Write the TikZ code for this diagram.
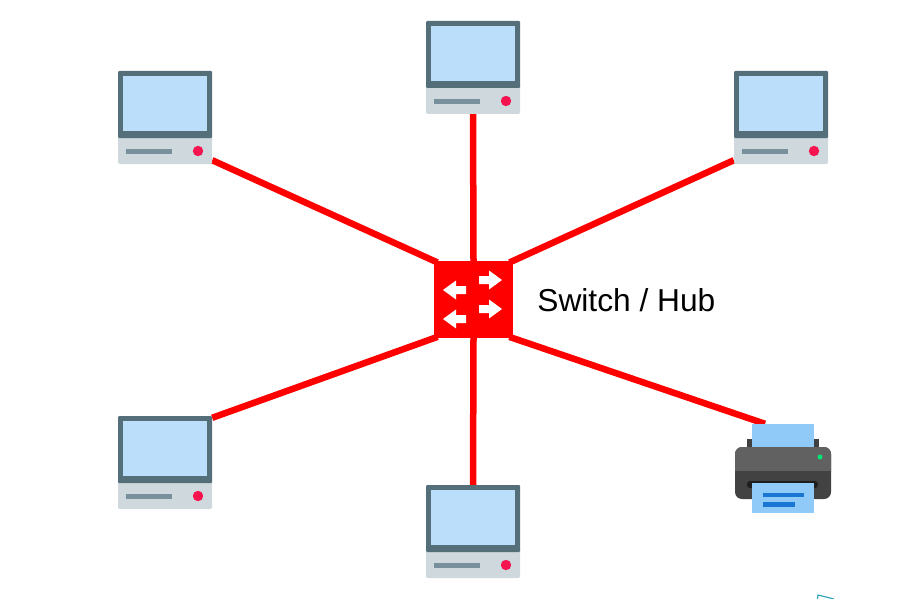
\documentclass[tikz,border=0pt]{standalone}
\usepackage{fontspec}
\setmainfont{Liberation Sans}
\usepackage{tikz}
\usetikzlibrary{positioning}
\definecolor{FrameGrey}{HTML}{546E7A}
\definecolor{ScreenBlue}{HTML}{BBDEFB}
\definecolor{BaseGrey}{HTML}{CFD8DC}
\definecolor{SlotGrey}{HTML}{78909C}
\definecolor{LampRed}{HTML}{F5144F}
\definecolor{LampGreen}{HTML}{00E676}
\definecolor{PaperBlue}{HTML}{90CAF9}
\definecolor{PrintBlue}{HTML}{1976D2}
\definecolor{MarkTeal}{HTML}{2CA6B5}
\tikzset{ComputerBox/.style={%
    shape=rectangle,%
    minimum width=94pt,%
    minimum height=93pt,%
    inner sep=0pt,%
}}
\tikzset{PrinterBox/.style={%
    shape=rectangle,%
    minimum width=96pt,%
    minimum height=89pt,%
    inner sep=0pt,%
}}
\tikzset{SwitchBox/.style={%
    shape=rectangle,%
    fill=red,%
    minimum width=79pt,%
    minimum height=77pt,%
    inner sep=0pt,%
}}
\tikzset{CableEdge/.style={%
    draw=red,%
    line width=6.5pt,%
    shorten >=-4pt,%
}}
\tikzset{SwitchLabel/.style={%
    inner sep=0pt,%
    font=\fontsize{31.7}{36}\selectfont,%
}}
\tikzset{computer/.pic={%
    \fill[BaseGrey, rounded corners=1.5pt] (-47,15) rectangle (47,46.5);
    \fill[FrameGrey, rounded corners=1pt] (-47,-46.5) rectangle (47,20.5);
    \fill[ScreenBlue] (-42,-41.5) rectangle (42,13.5);
    \fill[SlotGrey] (-39,31.5) rectangle (7,36.5);
    \fill[LampRed] (33,33.5) circle (5.2);
}}
\tikzset{printer/.pic={%
    \fill[black!75] (-36,-30) rectangle (36,-20);
    \fill[PaperBlue] (-31,-44.5) rectangle (31,-20);
    \fill[black!74, rounded corners=7pt] (-48,-21.5) rectangle (48,30.5);
    \fill[black!62, rounded corners=7pt] (-48,-21.5) rectangle (48,10);
    \fill[black!74] (-48,2.5) rectangle (48,10);
    \fill[black!88, rounded corners=3pt] (-36,12.5) rectangle (35,19.5);
    \fill[PaperBlue] (-31,14.5) rectangle (31,44.5);
    \fill[PrintBlue] (-20,24.5) rectangle (21,28.5);
    \fill[PrintBlue] (-20,33.5) rectangle (12,38.5);
    \fill[LampGreen] (37,-11.5) circle (2.5);
}}
\tikzset{arrowright/.pic={%
    \fill[white] (-11.5,-4) -- (-1.5,-4) -- (-1.5,-9.5) -- (11.5,0) -- (-1.5,9.5) -- (-1.5,4) -- (-11.5,4) -- cycle;
}}
\tikzset{arrowleft/.pic={%
    \fill[white] (11.5,-4) -- (1.5,-4) -- (1.5,-9.5) -- (-11.5,0) -- (1.5,9.5) -- (1.5,4) -- (11.5,4) -- cycle;
}}

\begin{document}
\begin{tikzpicture}[x=1pt, y=-1pt]
    \useasboundingbox (0,0) rectangle (912,599);
    \node[ComputerBox] (pc1) at (165,117.5) {};
    \node[ComputerBox] (pc2) at (473,67.5) {};
    \node[ComputerBox] (pc3) at (781,117.5) {};
    \node[ComputerBox] (pc4) at (165,462.5) {};
    \node[ComputerBox] (pc5) at (473,531.5) {};
    \node[PrinterBox] (prn) at (783,468.5) {};
    \node[SwitchBox] (hub) at (473.5,299.5) {};
    \node[SwitchLabel, right=24pt of hub, yshift=-0.5pt] (hublabel) {Switch / Hub};

    \path ([yshift=4pt]pc1.south east) edge[CableEdge] (hub.north west);
    \path (pc2.south) edge[CableEdge] (hub.north);
    \path ([yshift=4pt]pc3.south west) edge[CableEdge] (hub.north east);
    \path ([yshift=-2pt]pc4.north east) edge[CableEdge] (hub.south west);
    \path (pc5.north) edge[CableEdge] (hub.south);
    \path ([xshift=-18pt]prn.north) edge[CableEdge] (hub.south east);

    \foreach \pcname in {pc1,pc2,pc3,pc4,pc5} {
        \pic at (\pcname) {computer};
    }
    \pic at (prn) {printer};
    \pic at (490.5,280) {arrowright};
    \pic at (490.5,309) {arrowright};
    \pic at (454.5,290) {arrowleft};
    \pic at (454.5,319) {arrowleft};

    % scrap of a shape cut off at the page edge
    \draw[MarkTeal, line width=1.2pt] (817.5,599) -- (818,595) -- (834,599);
\end{tikzpicture}
\end{document}
